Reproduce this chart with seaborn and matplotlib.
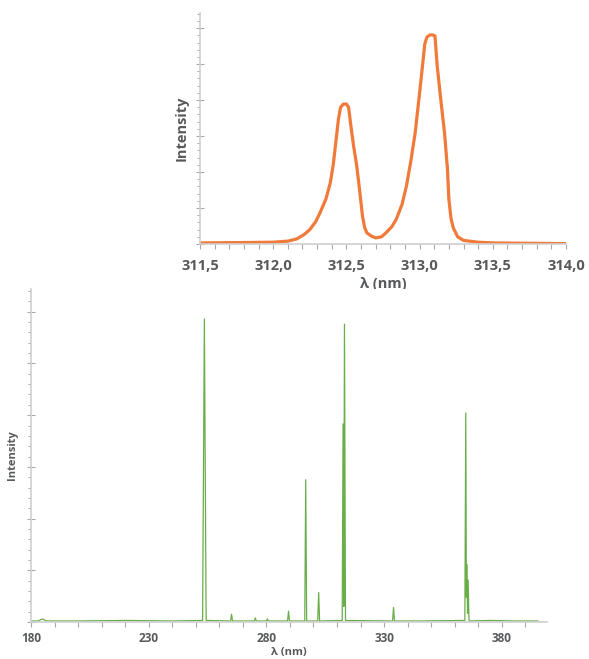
import numpy as np
import pandas as pd
import matplotlib
matplotlib.use("Agg")
import matplotlib.pyplot as plt
from matplotlib.ticker import MultipleLocator, NullFormatter
import seaborn as sns

# ---------------- data ----------------
# Top panel: zoom on the Hg 312.6 / 313.2 nm doublet
zoom_wavelength = [311.50, 311.80, 312.00, 312.10, 312.16, 312.21, 312.25, 312.29, 312.32, 312.36,
                   312.39, 312.41, 312.43, 312.445, 312.46, 312.48, 312.50, 312.515, 312.53, 312.55,
                   312.57, 312.59, 312.61, 312.625, 312.64, 312.67, 312.70, 312.74, 312.77, 312.81,
                   312.84, 312.88, 312.91, 312.94, 312.97, 313.00, 313.02, 313.035, 313.05, 313.07,
                   313.09, 313.105, 313.12, 313.145, 313.17, 313.19, 313.20, 313.215, 313.23, 313.26,
                   313.30, 313.40, 313.50, 313.75, 314.00]
zoom_intensity = [0.03, 0.04, 0.05, 0.08, 0.14, 0.26, 0.40, 0.62, 0.87, 1.25,
                  1.70, 2.20, 2.91, 3.45, 3.80, 3.89, 3.89, 3.80, 3.30, 2.70,
                  2.19, 1.50, 0.77, 0.45, 0.31, 0.22, 0.17, 0.20, 0.31, 0.48,
                  0.68, 1.10, 1.61, 2.30, 3.10, 4.20, 4.96, 5.55, 5.75, 5.81,
                  5.81, 5.78, 4.96, 4.00, 3.10, 2.10, 1.24, 0.70, 0.45, 0.20,
                  0.10, 0.05, 0.03, 0.02, 0.01]

# Bottom panel: full Hg lamp spectrum
full_wavelength = [180.0, 183.0, 184.9, 186.5, 200.0, 220.0, 240.0, 252.9, 253.65, 254.4,
                   264.8, 265.2, 265.6, 274.9, 275.3, 275.7, 280.0, 280.4, 280.8, 289.0,
                   289.4, 289.8, 296.3, 296.7, 297.1, 301.8, 302.2, 302.6, 312.2, 312.57,
                   312.87, 313.16, 313.6, 333.6, 334.0, 334.4, 345.0, 364.3, 364.7, 364.95,
                   365.1, 365.45, 365.7, 366.05, 366.4, 375.0, 385.0, 395.4]
full_intensity = [0.02, 0.02, 0.06, 0.02, 0.02, 0.03, 0.02, 0.03, 5.86, 0.03,
                  0.02, 0.15, 0.02, 0.02, 0.08, 0.02, 0.02, 0.06, 0.02, 0.02,
                  0.21, 0.02, 0.02, 2.75, 0.02, 0.02, 0.57, 0.02, 0.03, 3.83,
                  0.30, 5.76, 0.03, 0.02, 0.28, 0.02, 0.02, 0.03, 4.04, 0.48,
                  1.12, 0.17, 0.81, 0.04, 0.02, 0.03, 0.02, 0.02]

zoom_ticks = [311.5, 312.0, 312.5, 313.0, 313.5, 314.0]
zoom_ticklabels = ["311,5", "312,0", "312,5", "313,0", "313,5", "314,0"]
full_ticks = [180, 230, 280, 330, 380]
full_ticklabels = ["180", "230", "280", "330", "380"]

# ---------------- style ----------------
sns.set_theme(style="white")
plt.rcParams["font.family"] = ["Open Sans", "DejaVu Sans"]

TXT = "#58595b"
SPINE = "#cfcfcf"
TICK = "#a8a8a8"
ORANGE = "#f07a3a"
GREEN = "#6aae4a"

fig = plt.figure(figsize=(5.89, 6.59), dpi=100)
ax1 = fig.add_axes([200 / 589, 1 - 244 / 659, 366 / 589, 231 / 659])
ax2 = fig.add_axes([31 / 589, 1 - 622 / 659, 516 / 589, 333 / 659])

df_zoom = pd.DataFrame({"wl": zoom_wavelength, "I": zoom_intensity})
df_full = pd.DataFrame({"wl": full_wavelength, "I": full_intensity})

sns.lineplot(data=df_zoom, x="wl", y="I", ax=ax1, color=ORANGE, linewidth=2.3,
             sort=False, estimator=None)
sns.lineplot(data=df_full, x="wl", y="I", ax=ax2, color=GREEN, linewidth=0.9,
             sort=False, estimator=None)

ax1.set_xlim(311.5, 314.0)
ax1.set_ylim(0, 6.42)
ax2.set_xlim(180, 399.2)
ax2.set_ylim(0, 6.44)


def style(ax, ticks, labels, minor_x, fs, lab_fs, xpad, xlabpad, ylabpad):
    for s in ["top", "right"]:
        ax.spines[s].set_visible(False)
    for s in ["left", "bottom"]:
        ax.spines[s].set_color(SPINE)
        ax.spines[s].set_linewidth(1.2)
    ax.set_xticks(ticks)
    ax.set_xticklabels(labels)
    ax.xaxis.set_minor_locator(MultipleLocator(minor_x))
    ax.yaxis.set_major_locator(MultipleLocator(1))
    ax.yaxis.set_minor_locator(MultipleLocator(0.2))
    ax.yaxis.set_major_formatter(NullFormatter())
    ax.tick_params(axis="x", which="both", bottom=True, direction="out", length=3.5,
                   width=0.8, color=TICK, labelsize=fs, labelcolor=TXT, pad=xpad)
    ax.tick_params(axis="y", which="major", left=True, direction="inout", length=6,
                   width=0.8, color=TICK)
    ax.tick_params(axis="y", which="minor", left=True, direction="out", length=2.5,
                   width=0.7, color=TICK)
    for t in ax.get_xticklabels():
        t.set_fontweight("bold")
    ax.set_xlabel("λ (nm)", fontsize=lab_fs, fontweight="bold", color=TXT, labelpad=xlabpad)
    ax.set_ylabel("Intensity", fontsize=lab_fs, fontweight="bold", color=TXT,
                  labelpad=ylabpad)


style(ax1, zoom_ticks, zoom_ticklabels, 0.1, 10.5, 10.5, 7, 3, 2)
style(ax2, full_ticks, full_ticklabels, 10, 8.5, 8, 4, 0, 3)

# keep the bottom x label just inside the figure edge
ax2.xaxis.label.set_verticalalignment("bottom")
ax2.xaxis.set_label_coords(0.5, -(658 - 622) / 333)

fig.savefig("out.png", dpi=100)
